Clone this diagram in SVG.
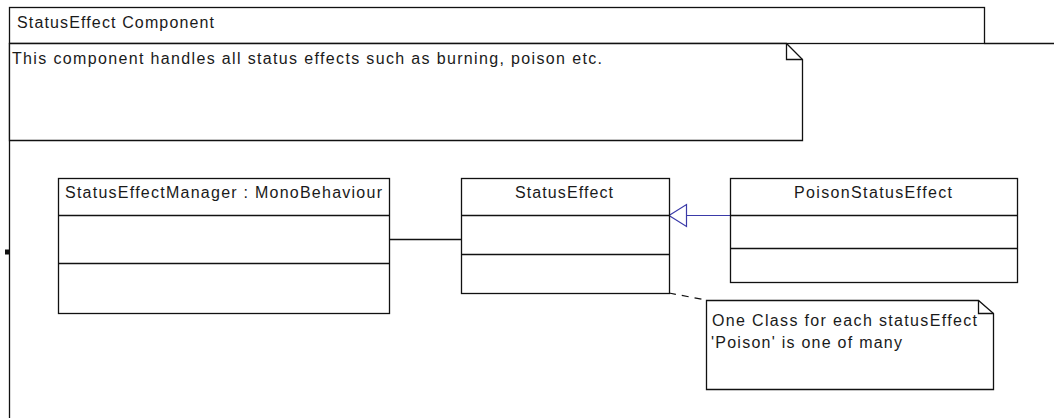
<svg xmlns="http://www.w3.org/2000/svg" width="1054" height="418" viewBox="0 0 1054 418">
  <style>
    .ln { fill: none; stroke: #111; stroke-width: 1.3; }
    .box { fill: #fff; stroke: #111; stroke-width: 1.3; }
    .txt { font-family: "Liberation Sans", Arial, sans-serif; font-size: 16px; fill: #1a1a1a; }
    .gen { fill: none; stroke: #3a3aa8; stroke-width: 1.2; }
    .dash { fill: none; stroke: #111; stroke-width: 1.2; stroke-dasharray: 7 6; }
  </style>
  <rect width="1054" height="418" fill="#fff"/>

  <!-- package frame -->
  <g id="package">
    <rect class="box" x="9.5" y="7.5" width="975" height="36"/>
    <path class="ln" d="M984.5 43.5 H1054 M9.5 43.5 V418"/>
    <text class="txt" x="17" y="28" textLength="197" lengthAdjust="spacing">StatusEffect Component</text>
    <rect x="5" y="249.5" width="4" height="5" fill="#111"/>
  </g>

  <!-- package description note -->
  <g id="note-package">
    <path class="box" d="M9.5 43.5 H786.5 L802.5 59.5 V140.5 H9.5 Z"/>
    <path class="ln" d="M786.5 43.5 V59.5 H802.5"/>
    <text class="txt" x="12" y="64" textLength="590" lengthAdjust="spacing">This component handles all status effects such as burning, poison etc.</text>
  </g>

  <!-- connectors -->
  <g id="connectors">
    <line class="ln" x1="389" y1="239.5" x2="461" y2="239.5"/>
    <line class="gen" x1="686" y1="215.5" x2="730" y2="215.5"/>
    <path class="gen" d="M669 215.5 L686.5 204.5 V226.5 Z" fill="#fff"/>
    <path class="dash" d="M669 293 L706 300"/>
  </g>

  <g id="StatusEffectManager">
    <rect class="box" x="58.5" y="178.5" width="331" height="135"/>
    <path class="ln" d="M58.5 215.5 H389.5 M58.5 263.5 H389.5"/>
    <text class="txt" x="65" y="198" textLength="317" lengthAdjust="spacing">StatusEffectManager : MonoBehaviour</text>
  </g>

  <g id="StatusEffect">
    <rect class="box" x="461.5" y="178.5" width="208" height="115"/>
    <path class="ln" d="M461.5 215.5 H669.5 M461.5 254.5 H669.5"/>
    <text class="txt" x="515" y="198" textLength="98" lengthAdjust="spacing">StatusEffect</text>
  </g>

  <g id="PoisonStatusEffect">
    <rect class="box" x="730.5" y="178.5" width="287" height="104"/>
    <path class="ln" d="M730.5 215.5 H1017.5 M730.5 248.5 H1017.5"/>
    <text class="txt" x="794" y="198" textLength="158" lengthAdjust="spacing">PoisonStatusEffect</text>
  </g>

  <g id="note-statuseffect">
    <path class="box" d="M706.5 300.5 H978.5 L993.5 313.5 V389.5 H706.5 Z"/>
    <path class="ln" d="M978.5 300.5 V313.5 H993.5"/>
    <text class="txt" x="712" y="326" textLength="265" lengthAdjust="spacing">One Class for each statusEffect</text>
    <text class="txt" x="711" y="348" textLength="191" lengthAdjust="spacing">'Poison' is one of many</text>
  </g>
</svg>
